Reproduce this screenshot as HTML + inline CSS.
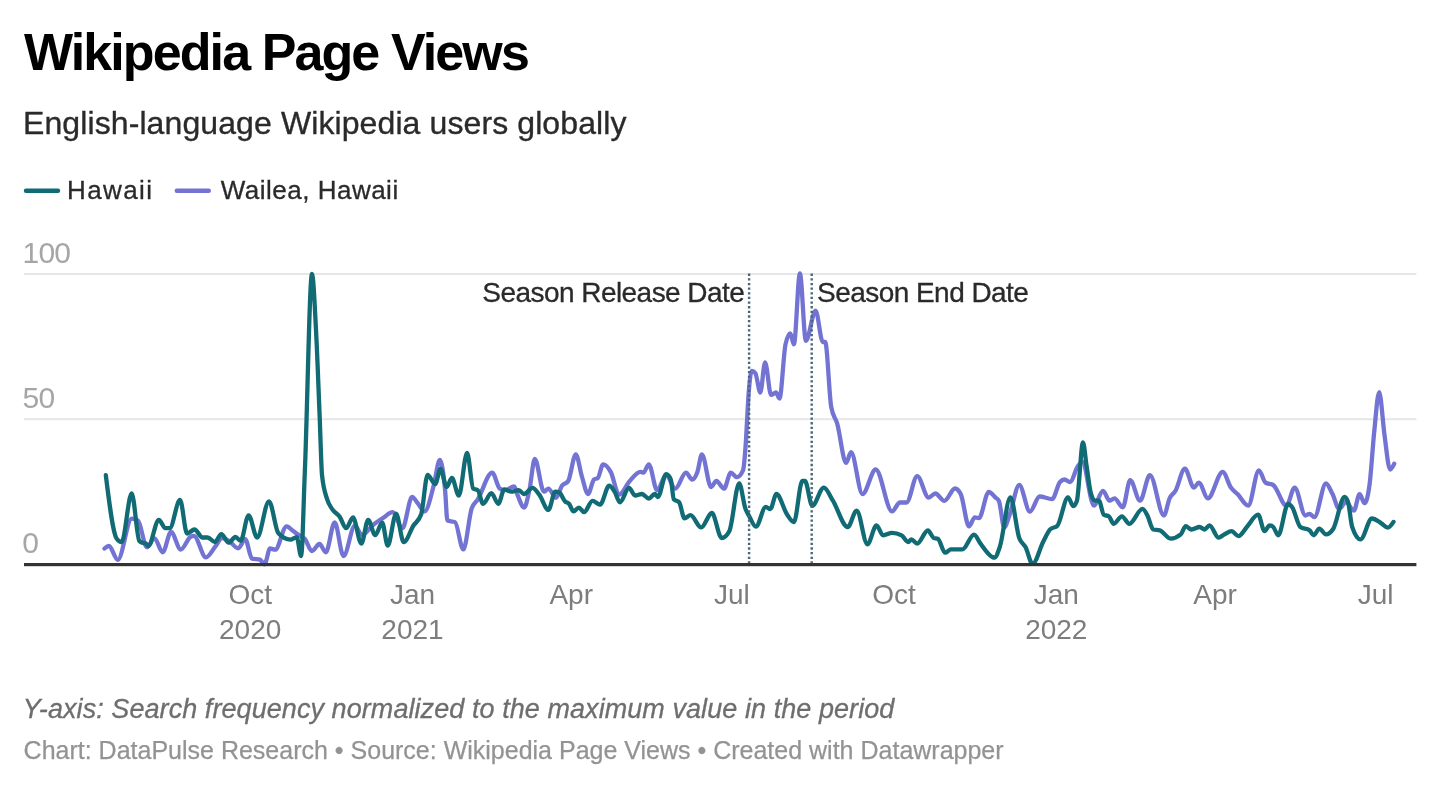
<!DOCTYPE html>
<html><head><meta charset="utf-8">
<style>
html,body{margin:0;padding:0;background:#fff;width:1440px;height:790px;overflow:hidden}
svg{display:block;will-change:transform}
text{font-family:"Liberation Sans",sans-serif}
</style></head>
<body>
<svg width="1440" height="790" viewBox="0 0 1440 790">
<text x="24" y="69.5" font-size="52" font-weight="bold" fill="#000" letter-spacing="-1.9">Wikipedia Page Views</text>
<text x="23" y="134.4" font-size="32" fill="#2a2a2a" stroke="#2a2a2a" stroke-width="0.35" letter-spacing="0.1">English-language Wikipedia users globally</text>
<rect x="23.8" y="188.6" width="36.4" height="4.4" rx="2.2" fill="#106b74"/>
<text x="67" y="199" font-size="26" fill="#2a2a2a" stroke="#2a2a2a" stroke-width="0.3" letter-spacing="1.4">Hawaii</text>
<rect x="174.6" y="188.6" width="36.4" height="4.4" rx="2.2" fill="#7373d3"/>
<text x="220.7" y="199" font-size="26" fill="#2a2a2a" stroke="#2a2a2a" stroke-width="0.3" letter-spacing="0.5">Wailea, Hawaii</text>
<!-- grid -->
<rect x="24" y="273" width="1392.4" height="2" fill="#e6e6e6"/>
<rect x="24" y="418.2" width="1392.4" height="2" fill="#e6e6e6"/>
<g font-size="30" fill="#a6a6a6" letter-spacing="-0.9">
<text x="22.6" y="262.9">100</text>
<text x="22.6" y="407.9">50</text>
<text x="22.2" y="552.9">0</text>
</g>
<g font-size="28" fill="#7d7d7d" text-anchor="middle">
<text x="250.2" y="604.3">Oct</text><text x="250.2" y="638.6">2020</text>
<text x="412.5" y="604.3">Jan</text><text x="412.5" y="638.6">2021</text>
<text x="571.2" y="604.3">Apr</text>
<text x="731.8" y="604.3">Jul</text>
<text x="894.1" y="604.3">Oct</text>
<text x="1056.3" y="604.3">Jan</text><text x="1056.3" y="638.6">2022</text>
<text x="1215" y="604.3">Apr</text>
<text x="1375.6" y="604.3">Jul</text>
</g>
<g font-size="28" fill="#2a2a2a" stroke="#2a2a2a" stroke-width="0.3" letter-spacing="-0.55">
<text x="744.3" y="302" text-anchor="end">Season Release Date</text>
<text x="817.1" y="302">Season End Date</text>
</g>
<g fill="none" stroke-width="4.3" stroke-linecap="round" stroke-linejoin="round">
<path stroke="#7373d3" d="M104.5,548.5C106.0,547.2 107.4,546.0 108.9,546.0C111.9,546.0 114.8,559.9 117.8,559.9C122.4,559.9 127.1,518.7 131.7,518.7C133.8,518.7 135.9,519.3 138.0,520.6C141.0,522.4 143.9,547.2 146.9,547.2C149.4,547.2 152.0,538.4 154.5,538.4C157.2,538.4 160.0,552.3 162.7,552.3C165.5,552.3 168.2,532.0 171.0,532.0C174.3,532.0 177.5,549.5 180.8,549.5C184.0,549.5 187.3,538.8 190.5,536.9C191.6,536.2 192.8,535.8 193.9,535.8C197.9,535.8 201.9,557.4 205.9,557.4C209.1,557.4 212.4,550.1 215.6,546.1C217.7,543.5 219.9,538.0 222.0,538.0C224.3,538.0 226.7,539.6 229.0,541.0C232.1,542.8 235.2,548.3 238.3,548.3C240.6,548.3 242.9,539.2 245.2,539.2C247.5,539.2 249.7,558.0 252.0,558.6C254.7,559.3 257.3,559.0 260.0,559.7C261.5,560.1 263.0,564.3 264.5,564.3C266.4,564.3 268.2,548.5 270.1,548.5C271.8,548.5 273.5,549.7 275.2,549.7C279.0,549.7 282.8,526.3 286.6,526.3C288.7,526.3 290.8,529.3 292.9,530.8C294.6,532.0 296.3,533.4 298.0,534.6C300.3,536.2 302.6,536.3 304.9,539.0C307.2,541.7 309.6,551.0 311.9,551.0C314.4,551.0 317.0,544.0 319.5,544.0C321.6,544.0 323.7,552.3 325.8,552.3C328.8,552.3 331.7,522.5 334.7,522.5C337.6,522.5 340.6,556.1 343.5,556.1C347.3,556.1 351.1,525.7 354.9,525.7C357.3,525.7 359.6,535.0 362.0,535.0C365.7,535.0 369.3,527.9 373.0,525.0C376.3,522.3 379.7,520.2 383.0,518.0C386.2,515.9 389.4,512.2 392.6,512.2C395.9,512.2 399.1,528.2 402.4,528.2C405.6,528.2 408.9,496.9 412.1,496.9C414.0,496.9 415.8,501.0 417.7,503.2C420.0,505.9 422.3,511.4 424.6,511.4C427.6,511.4 430.7,496.7 433.7,485.6C435.7,478.1 437.8,459.8 439.8,459.8C441.6,459.8 443.3,470.9 445.1,490.2C445.9,498.6 446.6,520.2 447.4,520.5C449.9,521.6 452.5,521.0 455.0,522.1C457.8,523.3 460.5,549.4 463.3,549.4C466.1,549.4 468.9,516.6 471.7,508.4C473.7,502.5 475.8,502.5 477.8,499.3C482.6,491.6 487.4,472.7 492.2,472.7C494.7,472.7 497.3,487.1 499.8,488.6C501.6,489.7 503.3,490.2 505.1,490.2C508.1,490.2 511.2,486.4 514.2,486.4C515.5,486.4 516.7,493.3 518.0,496.2C520.0,500.9 522.1,507.6 524.1,507.6C525.9,507.6 527.6,498.2 529.4,490.2C531.2,482.1 533.0,459.0 534.8,459.0C537.8,459.0 540.9,491.7 543.9,491.7C545.4,491.7 546.9,488.6 548.4,488.6C550.9,488.6 553.5,497.8 556.0,497.8C558.0,497.8 560.1,488.4 562.1,485.6C564.1,482.8 566.2,484.1 568.2,481.0C570.7,477.2 573.3,454.4 575.8,454.4C577.8,454.4 579.9,469.9 581.9,476.5C583.9,483.1 586.0,494.0 588.0,494.0C590.0,494.0 592.0,481.1 594.0,479.5C595.3,478.5 596.5,479.0 597.8,478.0C599.6,476.6 601.3,464.3 603.1,464.3C605.6,464.3 608.2,467.3 610.7,471.9C613.5,477.0 616.3,494.7 619.1,494.7C622.7,494.7 626.2,484.8 629.8,481.0C633.3,477.2 636.9,471.9 640.4,471.9C641.4,471.9 642.4,472.7 643.4,472.7C645.2,472.7 647.0,464.3 648.8,464.3C651.6,464.3 654.3,490.2 657.1,490.2C660.1,490.2 663.2,475.0 666.2,475.0C669.2,475.0 672.3,488.6 675.3,488.6C678.9,488.6 682.4,472.7 686.0,472.7C688.0,472.7 690.1,479.5 692.1,479.5C693.9,479.5 695.6,476.8 697.4,471.9C698.9,467.8 700.4,454.4 701.9,454.4C705.0,454.4 708.0,487.1 711.1,487.1C712.9,487.1 714.6,481.0 716.4,481.0C718.9,481.0 721.5,488.6 724.0,488.6C726.3,488.6 728.5,472.7 730.8,472.7C732.8,472.7 734.9,477.2 736.9,477.2C738.9,477.2 741.0,474.9 743.0,470.4C744.0,468.2 745.0,454.9 746.0,440.0C746.7,429.1 747.5,410.3 748.2,399.7C749.4,382.4 750.6,370.8 751.8,370.8C753.0,370.8 754.2,371.6 755.4,373.2C757.0,375.4 758.7,392.5 760.3,392.5C761.9,392.5 763.5,362.4 765.1,362.4C767.1,362.4 769.1,394.9 771.1,394.9C772.7,394.9 774.3,392.5 775.9,392.5C777.1,392.5 778.3,398.5 779.5,398.5C781.5,398.5 783.5,353.5 785.5,344.4C787.1,337.1 788.7,333.5 790.3,333.5C791.5,333.5 792.7,344.4 793.9,344.4C795.9,344.4 797.9,273.4 799.9,273.4C801.9,273.4 803.9,340.8 805.9,340.8C809.1,340.8 812.4,310.7 815.6,310.7C818.0,310.7 820.4,342.0 822.8,342.0C823.6,342.0 824.4,342.0 825.2,342.0C827.2,342.0 829.2,395.7 831.2,406.9C833.2,418.1 835.2,416.8 837.2,423.7C840.2,433.9 843.1,462.9 846.1,462.9C847.7,462.9 849.4,452.2 851.0,452.2C854.8,452.2 858.7,494.1 862.5,494.1C866.9,494.1 871.3,469.5 875.7,469.5C881.2,469.5 886.6,511.4 892.1,511.4C894.7,511.4 897.3,502.5 899.9,502.5C902.1,502.5 904.3,502.5 906.5,502.5C910.1,502.5 913.6,476.2 917.2,476.2C921.0,476.2 924.9,497.6 928.7,497.6C930.9,497.6 933.1,493.5 935.3,493.5C938.3,493.5 941.3,500.9 944.3,500.9C947.9,500.9 951.4,488.5 955.0,488.5C956.9,488.5 958.9,490.4 960.8,494.3C963.5,499.8 966.3,526.3 969.0,526.3C970.9,526.3 972.9,517.3 974.8,517.3C976.2,517.3 977.5,518.1 978.9,518.1C982.2,518.1 985.5,491.8 988.8,491.8C991.0,491.8 993.1,495.4 995.3,497.4C996.5,498.5 997.7,498.6 998.9,500.9C1000.7,504.3 1002.4,527.5 1004.2,527.5C1006.0,527.5 1007.7,519.7 1009.5,515.1C1012.8,506.6 1016.0,485.0 1019.3,485.0C1022.8,485.0 1026.4,511.6 1029.9,511.6C1033.1,511.6 1036.4,496.5 1039.6,496.5C1043.8,496.5 1047.9,499.1 1052.1,499.1C1054.7,499.1 1057.4,484.9 1060.0,482.0C1061.5,480.3 1063.0,479.5 1064.5,479.5C1066.3,479.5 1068.2,482.0 1070.0,482.0C1072.6,482.0 1075.2,469.8 1077.8,466.3C1079.3,464.3 1080.7,461.9 1082.2,461.9C1086.1,461.9 1090.1,505.7 1094.0,505.7C1097.0,505.7 1100.0,490.9 1103.0,490.9C1105.2,490.9 1107.4,500.7 1109.6,500.7C1111.2,500.7 1112.9,498.3 1114.5,498.3C1117.3,498.3 1120.0,507.3 1122.8,507.3C1125.3,507.3 1127.7,480.2 1130.2,480.2C1133.5,480.2 1136.7,500.7 1140.0,500.7C1143.3,500.7 1146.6,475.2 1149.9,475.2C1154.6,475.2 1159.2,515.5 1163.9,515.5C1165.8,515.5 1167.7,502.4 1169.6,498.3C1171.5,494.1 1173.5,494.1 1175.4,490.9C1178.6,485.6 1181.7,468.7 1184.9,468.7C1187.9,468.7 1190.9,487.6 1193.9,487.6C1195.5,487.6 1197.2,482.6 1198.8,482.6C1201.8,482.6 1204.9,498.3 1207.9,498.3C1212.8,498.3 1217.8,471.9 1222.7,471.9C1225.4,471.9 1228.2,483.8 1230.9,487.6C1233.1,490.7 1235.3,491.9 1237.5,494.1C1241.1,497.7 1244.6,505.7 1248.2,505.7C1251.8,505.7 1255.3,470.3 1258.9,470.3C1261.1,470.3 1263.3,481.2 1265.5,482.6C1268.1,484.3 1270.7,483.4 1273.3,485.1C1277.7,487.9 1282.0,505.7 1286.4,505.7C1289.2,505.7 1291.9,487.6 1294.7,487.6C1298.3,487.6 1301.8,515.5 1305.4,515.5C1306.8,515.5 1308.1,513.9 1309.5,513.9C1311.1,513.9 1312.8,517.2 1314.4,517.2C1318.2,517.2 1322.1,483.5 1325.9,483.5C1328.1,483.5 1330.3,489.9 1332.5,494.1C1334.7,498.3 1336.9,508.9 1339.1,508.9C1341.4,508.9 1343.7,502.0 1346.0,502.0C1348.6,502.0 1351.3,510.6 1353.9,510.6C1355.8,510.6 1357.7,494.1 1359.6,494.1C1361.3,494.1 1362.9,503.2 1364.6,503.2C1366.3,503.2 1367.9,496.9 1369.6,484.3C1371.1,472.7 1372.7,446.9 1374.2,432.0C1375.9,415.8 1377.5,392.1 1379.2,392.1C1380.9,392.1 1382.7,421.7 1384.4,434.2C1386.3,447.9 1388.2,469.5 1390.1,469.5C1391.5,469.5 1392.8,466.7 1394.2,463.8"/>
<path stroke="#106b74" d="M105.8,475.1C109.4,504.1 112.9,533.1 116.5,538.4C118.2,540.9 119.9,542.2 121.6,542.2C125.0,542.2 128.3,493.4 131.7,493.4C134.2,493.4 136.8,537.9 139.3,540.9C140.4,542.2 141.4,542.4 142.5,542.8C143.5,543.2 144.6,543.0 145.6,543.4C146.5,543.7 147.3,546.0 148.2,546.0C151.8,546.0 155.3,520.0 158.9,520.0C161.0,520.0 163.2,528.2 165.3,528.2C166.8,528.2 168.2,528.2 169.7,528.2C173.1,528.2 176.6,499.9 180.0,499.9C182.4,499.9 184.7,533.5 187.1,533.5C189.6,533.5 192.0,529.5 194.5,529.5C197.2,529.5 199.8,537.5 202.5,537.5C204.2,537.5 205.9,537.5 207.6,537.5C210.1,537.5 212.5,542.1 215.0,542.1C217.1,542.1 219.2,534.1 221.3,534.1C223.8,534.1 226.2,542.6 228.7,542.6C231.0,542.6 233.2,537.0 235.5,537.0C237.2,537.0 238.9,540.9 240.6,540.9C243.3,540.9 245.9,515.3 248.6,515.3C251.4,515.3 254.3,537.5 257.1,537.5C261.1,537.5 265.0,501.3 269.0,501.3C272.1,501.3 275.3,530.0 278.4,533.3C282.4,537.5 286.4,539.6 290.4,539.6C292.5,539.6 294.6,537.1 296.7,537.1C298.2,537.1 299.6,556.1 301.1,556.1C302.4,556.1 303.6,500.9 304.9,470.0C307.3,412.3 309.6,274.0 312.0,274.0C313.3,274.0 314.7,304.7 316.0,330.0C317.3,354.0 318.5,388.9 319.8,420.0C320.5,438.0 321.3,468.1 322.0,475.0C323.7,491.1 325.4,493.4 327.1,499.1C328.8,504.8 330.5,506.5 332.2,509.2C334.7,513.2 337.2,513.2 339.7,516.8C341.8,519.8 344.0,528.2 346.1,528.2C348.4,528.2 350.7,517.5 353.0,517.5C355.8,517.5 358.5,543.6 361.3,543.6C363.6,543.6 365.9,519.9 368.2,519.9C370.5,519.9 372.9,535.2 375.2,535.2C377.5,535.2 379.9,522.7 382.2,522.7C384.0,522.7 385.9,545.7 387.7,545.7C390.5,545.7 393.3,513.6 396.1,513.6C398.6,513.6 401.2,542.2 403.7,542.2C407.0,542.2 410.2,530.6 413.5,525.5C416.1,521.5 418.6,521.8 421.2,514.3C423.3,508.1 425.5,475.0 427.6,475.0C430.1,475.0 432.7,484.1 435.2,484.1C437.0,484.1 438.7,468.9 440.5,468.9C442.5,468.9 444.6,487.1 446.6,487.1C448.4,487.1 450.1,478.0 451.9,478.0C454.2,478.0 456.5,495.5 458.8,495.5C461.6,495.5 464.3,452.9 467.1,452.9C469.1,452.9 471.2,487.2 473.2,488.6C474.7,489.7 476.3,489.1 477.8,490.2C479.6,491.4 481.3,503.8 483.1,503.8C485.9,503.8 488.6,493.2 491.4,493.2C493.7,493.2 496.0,503.8 498.3,503.8C500.3,503.8 502.3,489.4 504.3,489.4C506.6,489.4 508.9,491.7 511.2,491.7C513.7,491.7 516.3,490.2 518.8,490.2C520.6,490.2 522.3,494.0 524.1,494.0C526.9,494.0 529.7,487.9 532.5,487.9C534.8,487.9 537.0,491.8 539.3,494.7C542.3,498.6 545.4,509.9 548.4,509.9C550.7,509.9 553.0,491.7 555.3,491.7C556.6,491.7 557.8,491.9 559.1,492.4C561.1,493.1 563.2,499.7 565.2,501.6C566.5,502.8 567.7,502.4 569.0,503.8C570.5,505.4 572.0,511.4 573.5,511.4C575.3,511.4 577.0,507.6 578.8,507.6C580.6,507.6 582.3,512.2 584.1,512.2C586.9,512.2 589.7,500.8 592.5,500.8C595.0,500.8 597.6,504.6 600.1,504.6C603.1,504.6 606.2,485.6 609.2,485.6C611.0,485.6 612.8,488.9 614.6,491.7C616.4,494.5 618.1,502.3 619.9,502.3C622.9,502.3 626.0,487.9 629.0,487.9C631.0,487.9 633.1,495.5 635.1,495.5C637.4,495.5 639.6,494.0 641.9,494.0C644.2,494.0 646.5,498.5 648.8,498.5C650.8,498.5 652.8,494.0 654.8,494.0C655.8,494.0 656.9,497.0 657.9,497.0C660.7,497.0 663.4,474.2 666.2,474.2C667.7,474.2 669.3,476.0 670.8,479.5C671.8,481.8 672.8,498.2 673.8,499.3C675.6,501.3 677.3,500.3 679.1,502.3C680.9,504.3 682.7,518.3 684.5,518.3C686.5,518.3 688.5,515.2 690.5,515.2C694.1,515.2 697.6,527.4 701.2,527.4C704.7,527.4 708.3,513.0 711.8,513.0C715.1,513.0 718.4,538.0 721.7,538.0C724.2,538.0 726.8,535.7 729.3,531.2C732.6,525.3 735.9,483.3 739.2,483.3C741.2,483.3 743.3,502.7 745.3,508.4C746.6,512.0 747.8,513.7 749.1,516.0C751.4,520.2 753.6,526.6 755.9,526.6C759.2,526.6 762.5,506.9 765.8,506.9C767.3,506.9 768.8,509.1 770.3,509.1C772.3,509.1 774.4,494.0 776.4,494.0C780.0,494.0 783.5,509.4 787.1,514.5C789.4,517.7 791.6,522.1 793.9,522.1C796.7,522.1 799.5,481.0 802.3,481.0C803.2,481.0 804.0,481.0 804.9,481.0C807.4,481.0 809.8,505.7 812.3,505.7C816.1,505.7 820.0,487.6 823.8,487.6C826.8,487.6 829.9,495.9 832.9,500.7C837.8,508.4 842.8,527.0 847.7,527.0C850.7,527.0 853.7,510.6 856.7,510.6C860.3,510.6 863.8,544.3 867.4,544.3C870.4,544.3 873.5,525.4 876.5,525.4C878.7,525.4 880.9,535.3 883.1,535.3C886.1,535.3 889.1,532.8 892.1,532.8C895.3,532.8 898.4,533.7 901.6,535.4C903.8,536.6 906.0,542.0 908.2,542.0C909.3,542.0 910.3,539.5 911.4,539.5C913.3,539.5 915.3,543.6 917.2,543.6C920.8,543.6 924.3,530.5 927.9,530.5C929.8,530.5 931.8,537.1 933.7,537.9C935.1,538.4 936.4,538.2 937.8,538.7C940.3,539.7 942.7,552.7 945.2,552.7C947.1,552.7 949.0,549.4 950.9,549.4C954.7,549.4 958.6,549.4 962.4,549.4C966.3,549.4 970.1,534.6 974.0,534.6C976.2,534.6 978.3,540.8 980.5,543.6C984.3,548.6 988.2,554.9 992.0,556.8C992.8,557.2 993.6,557.7 994.4,557.7C996.2,557.7 998.0,552.2 999.8,547.0C1003.3,536.8 1006.9,497.4 1010.4,497.4C1013.4,497.4 1016.3,530.1 1019.3,538.2C1021.4,543.8 1023.4,543.1 1025.5,547.0C1027.9,551.4 1030.2,563.9 1032.6,563.9C1036.1,563.9 1039.7,548.4 1043.2,541.7C1045.6,537.2 1047.9,531.7 1050.3,529.3C1052.7,526.9 1055.0,528.1 1057.4,525.7C1060.9,522.1 1064.5,497.4 1068.0,497.4C1069.8,497.4 1071.5,506.2 1073.3,506.2C1074.5,506.2 1075.7,504.4 1076.9,500.9C1078.9,494.9 1081.0,442.4 1083.0,442.4C1084.2,442.4 1085.4,458.4 1086.6,466.2C1088.0,475.1 1089.3,487.0 1090.7,492.5C1092.1,498.0 1093.4,500.7 1094.8,500.7C1096.2,500.7 1097.5,500.7 1098.9,500.7C1100.5,500.7 1102.2,513.7 1103.8,514.7C1105.5,515.8 1107.1,515.2 1108.8,516.3C1110.4,517.3 1112.1,523.8 1113.7,523.8C1116.4,523.8 1119.2,516.3 1121.9,516.3C1124.4,516.3 1126.8,523.8 1129.3,523.8C1133.7,523.8 1138.1,508.9 1142.5,508.9C1144.1,508.9 1145.8,512.5 1147.4,515.5C1149.3,519.0 1151.3,529.0 1153.2,529.5C1155.4,530.0 1157.6,529.8 1159.8,530.3C1163.4,531.2 1166.9,538.6 1170.5,538.6C1173.9,538.6 1177.4,537.2 1180.8,534.4C1182.4,533.1 1184.1,526.2 1185.7,526.2C1187.6,526.2 1189.5,529.5 1191.4,529.5C1194.2,529.5 1196.9,527.0 1199.7,527.0C1201.3,527.0 1203.0,529.5 1204.6,529.5C1206.2,529.5 1207.9,525.4 1209.5,525.4C1212.5,525.4 1215.6,537.7 1218.6,537.7C1220.5,537.7 1222.4,535.4 1224.3,534.4C1226.8,533.1 1229.2,531.2 1231.7,531.2C1233.9,531.2 1236.1,536.1 1238.3,536.1C1241.3,536.1 1244.4,529.5 1247.4,526.2C1251.0,522.3 1254.5,514.7 1258.1,514.7C1260.3,514.7 1262.4,531.2 1264.6,531.2C1266.3,531.2 1267.9,525.4 1269.6,525.4C1270.8,525.4 1272.1,525.9 1273.3,527.0C1274.9,528.4 1276.6,535.3 1278.2,535.3C1281.5,535.3 1284.8,504.0 1288.1,504.0C1289.5,504.0 1290.8,505.5 1292.2,507.3C1294.9,511.0 1297.7,525.0 1300.4,527.0C1303.4,529.2 1306.5,528.1 1309.5,530.3C1310.9,531.3 1312.2,535.3 1313.6,535.3C1315.5,535.3 1317.4,528.7 1319.3,528.7C1321.5,528.7 1323.7,534.4 1325.9,534.4C1328.4,534.4 1330.8,532.5 1333.3,528.7C1337.0,522.9 1340.8,497.0 1344.5,497.0C1345.7,497.0 1346.9,498.8 1348.1,502.4C1349.5,506.5 1350.8,522.9 1352.2,527.0C1355.0,535.3 1357.7,539.4 1360.5,539.4C1364.3,539.4 1368.1,518.5 1371.9,518.5C1374.9,518.5 1378.0,521.3 1381.0,523.1C1383.3,524.4 1385.5,527.6 1387.8,527.6C1389.7,527.6 1391.6,524.8 1393.5,521.9"/>
</g>
<line x1="749.1" y1="273.6" x2="749.1" y2="563" stroke="#4a6679" stroke-width="2.4" stroke-dasharray="2.3,2.34"/>
<line x1="811.7" y1="273.6" x2="811.7" y2="563" stroke="#4a6679" stroke-width="2.4" stroke-dasharray="2.3,2.34"/>
<rect x="24" y="563" width="1392.4" height="3.2" fill="#333"/>
<text x="22.8" y="717.8" font-size="27" font-style="italic" fill="#6e6e6e" stroke="#6e6e6e" stroke-width="0.3" letter-spacing="0.067">Y-axis: Search frequency normalized to the maximum value in the period</text>
<text x="23.6" y="759.1" font-size="25" fill="#939393" stroke="#939393" stroke-width="0.25">Chart: DataPulse Research • Source: Wikipedia Page Views • Created with Datawrapper</text>
</svg>
</body></html>
